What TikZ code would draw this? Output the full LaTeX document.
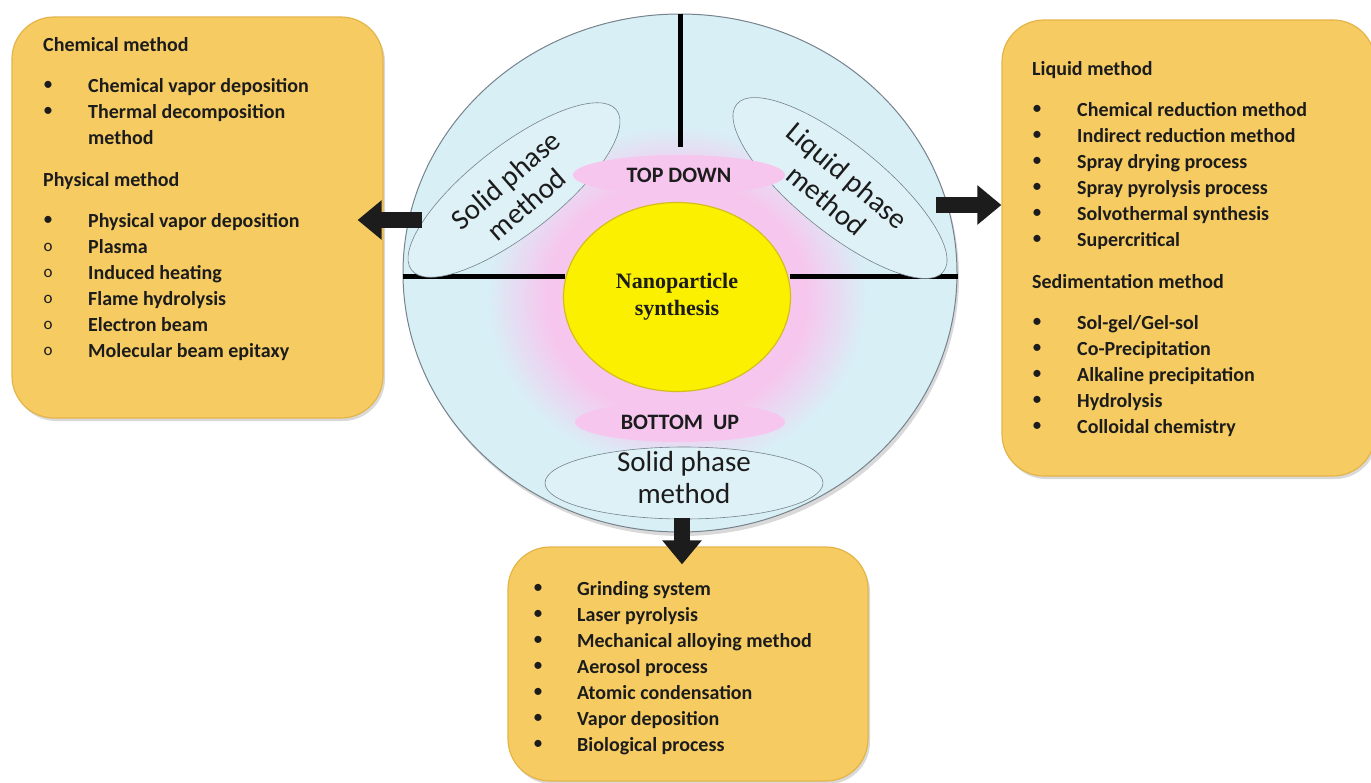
\documentclass[tikz,border=0pt]{standalone}
\usepackage{fontspec}
\setmainfont{Carlito}
\newfontfamily\timesfont{Liberation Serif}
\usetikzlibrary{shapes.geometric,arrows.meta,shadows}
\definecolor{hopvang}{RGB}{246,204,98}
\definecolor{vienvang}{RGB}{228,180,72}
\definecolor{xanhnhat}{RGB}{216,239,246}
\definecolor{vienxanh}{RGB}{118,130,140}
\definecolor{hong}{RGB}{247,198,238}
\definecolor{vangtam}{RGB}{250,240,0}
\definecolor{vienvangtam}{RGB}{212,190,30}
\definecolor{chuden}{RGB}{28,28,28}
\pgfdeclareradialshading{quang}{\pgfpoint{0bp}{0bp}}{color(0bp)=(hong); color(17bp)=(hong); color(25bp)=(xanhnhat); color(50bp)=(xanhnhat)}

\begin{document}
\begin{tikzpicture}[x=1pt,y=-1pt,
	hop/.style={draw=vienvang,line width=1.2pt,fill=hopvang,rounded corners=42pt,
		drop shadow={opacity=0.3,shadow xshift=2pt,shadow yshift=-3pt}},
	chu/.style={anchor=west,inner sep=0pt,text height=13pt,text depth=0pt,
		font=\bfseries\fontsize{20}{24}\selectfont,text=chuden},
	cham/.style={inner sep=0pt,font=\fontsize{20}{24}\selectfont,text=chuden},
	vong/.style={inner sep=0pt,font=\fontsize{17}{20}\selectfont,text=chuden},
	phuong/.style={ellipse,draw=vienxanh,line width=0.6pt,fill=xanhnhat!85!white,inner sep=0pt},
	nhanphuong/.style={align=center,font=\fontsize{29}{32}\selectfont,text=chuden,inner sep=0pt},
	bang/.style={ellipse,fill=hong,inner sep=0pt,font=\bfseries\fontsize{22}{24}\selectfont,text=chuden},
	vach/.style={line width=5pt,draw=black},
	muiten/.style={line width=16pt,draw=chuden,-{Triangle[length=24pt,width=38pt]}}]
			\useasboundingbox (0,0) rectangle (1371,782);
			% ba hop
			\node[hop,minimum width=371pt,minimum height=401pt] (hoptrai) at (197.5,217.5) {};
			\node[hop,minimum width=373pt,minimum height=456pt] (hopphai) at (1188.5,248) {};
			\node[hop,minimum width=360pt,minimum height=234pt] (hopduoi) at (688,664) {};
			% dia tron
			\node[ellipse,draw=vienxanh,line width=1pt,fill=xanhnhat,minimum width=554pt,minimum height=518pt,
				drop shadow={opacity=0.3,shadow xshift=2pt,shadow yshift=-4pt}] (dia) at (680,273) {};
			\shade[shading=quang] (677,298) ellipse [x radius=190,y radius=172];
			\coordinate (vachtren) at (680,147);
			\coordinate (vachtrai) at (565,276);
			\coordinate (vachphai) at (790,276);
			\draw[vach] (dia.north) -- (vachtren);
			\draw[vach] (dia.west |- vachtrai) -- (vachtrai);
			\draw[vach] (vachphai) -- (dia.east |- vachphai);
			\node[phuong,minimum width=260pt,minimum height=88pt,rotate=38] (rantrai) at (514,190) {};
			\node[phuong,minimum width=266pt,minimum height=88pt,rotate=-39] (longphai) at (840,188) {};
			\node[phuong,minimum width=278pt,minimum height=72pt] (randuoi) at (684,483) {};
			\node[nhanphuong,rotate=41] (nrantrai) at (516,192) {Solid phase\\method};
			\node[nhanphuong,rotate=-40] (nlongphai) at (837,188) {Liquid phase\\method};
			\node[nhanphuong] (nranduoi) at (684,478) {Solid phase\\method};
			\node[bang,minimum width=212pt,minimum height=40pt] (tren) at (679,175) {TOP DOWN};
			\node[bang,minimum width=210pt,minimum height=40pt] (duoi) at (680,422) {BOTTOM\ \ UP};
			\node[ellipse,draw=vienvangtam,line width=1.2pt,fill=vangtam,minimum width=227pt,minimum height=189pt,
				align=center,font=\timesfont\bfseries\fontsize{22}{27}\selectfont,text=chuden] (tam) at (677,297) {Nanoparticle\\synthesis};
			% mui ten
			\coordinate (gtrai) at (422,220);
			\coordinate (gphai) at (936,205);
			\coordinate (gduoi) at (682,518);
			\draw[muiten] (gtrai) -- ([xshift=-26pt]gtrai -| hoptrai.east);
			\draw[muiten] (gphai) -- (gphai -| hopphai.west);
			\draw[muiten] (gduoi) -- ([yshift=-18pt]gduoi |- hopduoi.north);
			% hop trai
			\node[chu] (hoahoc) at (43,45) {Chemical method};
			\node[chu] (vatly) at (43,180) {Physical method};
			\foreach \y/\t [count=\i] in {86/Chemical vapor deposition,112/Thermal decomposition,138/method,
				221/Physical vapor deposition,247/Plasma,273/Induced heating,299/Flame hydrolysis,
				325/Electron beam,351/Molecular beam epitaxy}
				\node[chu] (trai\i) at (88,\y) {\t};
			\foreach \y [count=\i] in {86,112,221}
				\node[cham] (chamtrai\i) at (48,\y) {•};
			\foreach \y [count=\i] in {247,273,299,325,351}
				\node[vong] (vongtrai\i) at (48,\y) {o};
			% hop phai
			\node[chu] (long) at (1032,69) {Liquid method};
			\node[chu] (lang) at (1032,282) {Sedimentation method};
			\foreach \y/\t [count=\i] in {110/Chemical reduction method,136/Indirect reduction method,
				162/Spray drying process,188/Spray pyrolysis process,214/Solvothermal synthesis,
				240/Supercritical,323/{Sol-gel/Gel-sol},349/Co-Precipitation,375/Alkaline precipitation,
				401/Hydrolysis,427/Colloidal chemistry}
				{\node[chu] (phai\i) at (1077,\y) {\t};
				\node[cham] (champhai\i) at (1037,\y) {•};}
			% hop duoi
			\foreach \t [count=\i] in {Grinding system,Laser pyrolysis,Mechanical alloying method,
				Aerosol process,Atomic condensation,Vapor deposition,Biological process}
				{\node[chu] (duoi\i) at (577,563+26*\i) {\t};
				\node[cham] (chamduoi\i) at (538,563+26*\i) {•};}
		\end{tikzpicture}
\end{document}
